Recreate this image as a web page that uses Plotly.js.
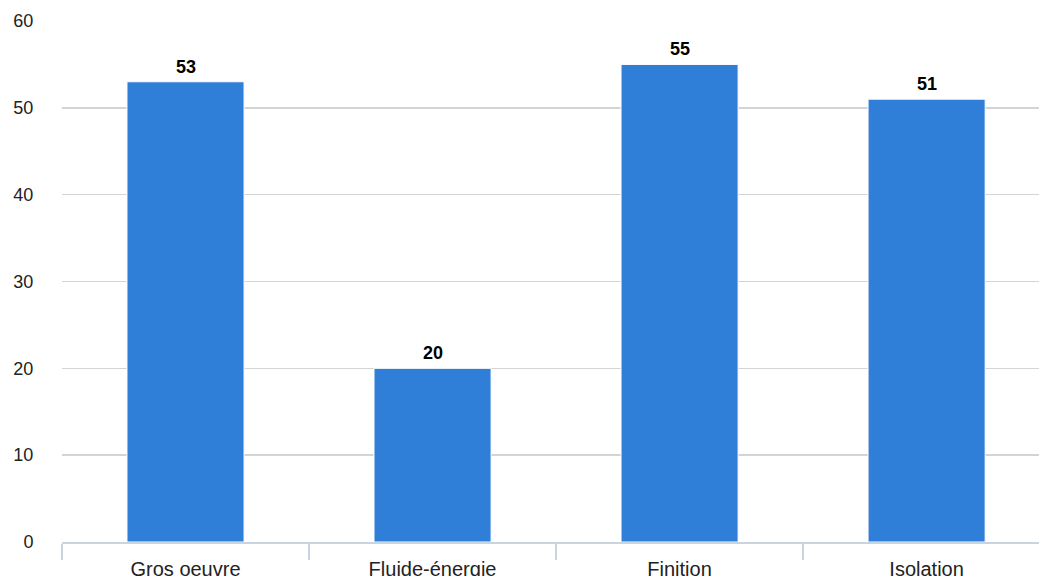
<!DOCTYPE html>
<html>
<head>
<meta charset="utf-8">
<script src="https://cdn.plot.ly/plotly-3.0.1.min.js"></script>
<style>
  html, body { margin: 0; padding: 0; background: #fff; }
  #chart { width: 1039px; height: 576px; }
</style>
</head>
<body>
<div id="chart"></div>
<script>
// Work packages and their counts
const categories = ['Gros oeuvre', 'Fluide-énergie', 'Finition', 'Isolation'];
const values = [53, 20, 55, 51];
const yTicks = [0, 10, 20, 30, 40, 50, 60];

const barColor = '#2f7ed8';
const font = 'Arial, "Liberation Sans", sans-serif';

const trace = {
  type: 'bar',
  x: categories,
  y: values,
  marker: { color: barColor, line: { color: '#ffffff', width: 1 } },
  hoverinfo: 'x+y'
};

// Value labels sitting above each bar
const valueLabels = categories.map((c, i) => ({
  x: c,
  y: values[i],
  xref: 'x',
  yref: 'y',
  text: String(values[i]),
  showarrow: false,
  yanchor: 'bottom',
  yshift: 3,
  font: { family: font, size: 18, color: '#000000', weight: 'bold' }
}));

const layout = {
  width: 1039,
  height: 576,
  margin: { l: 62, r: 0, t: 21, b: 34 },
  paper_bgcolor: '#ffffff',
  plot_bgcolor: '#ffffff',
  showlegend: false,
  bargap: 0.526,
  xaxis: {
    type: 'category',
    range: [-0.5, 3.455],
    showgrid: false,
    zeroline: false,
    showline: true,
    linecolor: '#c8d4e0',
    linewidth: 2,
    ticks: 'outside',
    tickson: 'boundaries',
    ticklen: 16,
    tickwidth: 1.5,
    tickcolor: '#c8d4e0',
    ticklabelstandoff: 8,
    tickfont: { family: font, size: 20, color: '#222222' },
    fixedrange: true
  },
  yaxis: {
    range: [0, 60],
    tickvals: yTicks,
    ticktext: yTicks.map(String),
    showgrid: true,
    gridcolor: '#d4d4d4',
    gridwidth: 1.5,
    zeroline: false,
    showline: false,
    ticks: 'outside',
    ticklen: 24,
    tickcolor: 'rgba(0,0,0,0)',
    tickfont: { family: font, size: 18, color: '#222222' },
    fixedrange: true
  },
  annotations: valueLabels
};

Plotly.newPlot('chart', [trace], layout, { displayModeBar: false, staticPlot: true });
</script>
</body>
</html>
